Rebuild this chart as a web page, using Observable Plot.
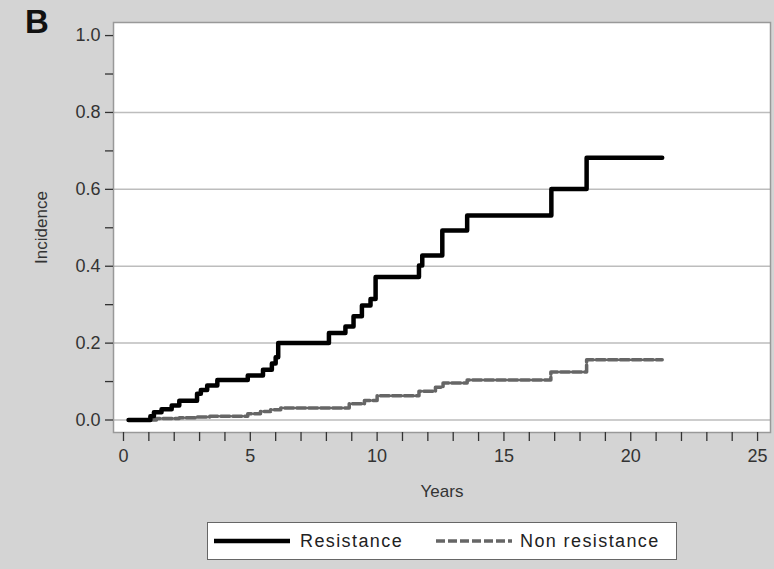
<!DOCTYPE html>
<html><head><meta charset="utf-8">
<script src="https://cdn.jsdelivr.net/npm/d3@7"></script>
<script src="https://cdn.jsdelivr.net/npm/@observablehq/plot@0.6"></script>
<style>
body{margin:0;background:#d4d4d4;font-family:"Liberation Sans",Arial,sans-serif;}
#wrap{position:relative;width:774px;height:569px;overflow:hidden;background:#d4d4d4;}
#panel{position:absolute;left:25px;top:5px;font-size:33px;font-weight:bold;color:#111;line-height:1;}
#chart{position:absolute;left:0;top:0;}
#legend{position:absolute;left:207px;top:522px;width:470px;height:38px;background:#fff;border:1px solid #666;box-sizing:border-box;}
.li{position:absolute;top:0;height:36px;line-height:36px;font-size:18px;letter-spacing:1.4px;color:#222;}
.sw{position:absolute;top:11px;}
</style></head>
<body>
<div id="wrap">
  <div id="chart"></div>
  <div id="panel">B</div>
  <div id="legend"></div>
</div>
<script>
// Data (years, cumulative incidence; step functions)
const resistanceYears = [0.2, 1.06, 1.2, 1.5, 1.9, 2.2, 2.9, 3.05, 3.3, 3.7, 4.9, 5.5, 5.85, 6.0, 6.1, 8.1, 8.75, 9.07, 9.4, 9.74, 9.94, 11.65, 11.78, 12.57, 13.55, 16.87, 18.26, 21.24];
const resistanceValues = [0, 0.01, 0.02, 0.028, 0.038, 0.05, 0.068, 0.078, 0.09, 0.104, 0.116, 0.131, 0.147, 0.163, 0.2, 0.226, 0.243, 0.27, 0.298, 0.315, 0.372, 0.402, 0.428, 0.493, 0.532, 0.601, 0.682, 0.682];
const nonResistanceYears = [0.2, 1.3, 2.2, 2.9, 3.4, 4.9, 5.4, 5.8, 6.2, 8.9, 9.5, 10.0, 11.65, 12.3, 12.6, 13.55, 16.85, 18.26, 21.24];
const nonResistanceValues = [0, 0.004, 0.006, 0.008, 0.01, 0.016, 0.022, 0.027, 0.031, 0.042, 0.051, 0.063, 0.075, 0.085, 0.096, 0.104, 0.125, 0.157, 0.157];
const seriesNames = ["Resistance", "Non resistance"];
const xTicks = [0,1,2,3,4,5,6,7,8,9,10,11,12,13,14,15,16,17,18,19,20,21,22,23,24,25];
const xLabels = [0, 5, 10, 15, 20, 25];
const yTicks = [0, 0.1, 0.2, 0.3, 0.4, 0.5, 0.6, 0.7, 0.8, 0.9, 1.0];
const yLabels = [0, 0.2, 0.4, 0.6, 0.8, 1.0];
const yGrid = [0, 0.2, 0.4, 0.6, 0.8];
const xTitle = "Years";
const yTitle = "Incidence";

const rows = [
  ...resistanceYears.map((t, i) => ({t, v: resistanceValues[i], s: seriesNames[0]})),
  ...nonResistanceYears.map((t, i) => ({t, v: nonResistanceValues[i], s: seriesNames[1]}))
];
const styles = {
  [seriesNames[0]]: {stroke: "#000", strokeWidth: 4.5, dash: null},
  [seriesNames[1]]: {stroke: "#666", strokeWidth: 3.5, dash: "9,3"}
};

const chart = Plot.plot({
  width: 774,
  height: 515,
  marginLeft: 113,
  marginRight: 4,
  marginTop: 22,
  marginBottom: 83,
  style: {background: "transparent", fontFamily: '"Liberation Sans", Arial, sans-serif', fontSize: "18px", color: "#333"},
  x: {domain: [-0.394, 25.51]},
  y: {domain: [-0.0325, 1.034]},
  marks: [
    Plot.frame({fill: "#fff", stroke: null}),
    Plot.gridY(yGrid, {stroke: "#bdbdbd", strokeOpacity: 1, strokeWidth: 1.5}),
    Plot.frame({stroke: "#999", strokeWidth: 1.5}),
    Plot.axisX({ticks: xTicks, tickSize: 9, tickPadding: 8, tickFormat: d => xLabels.includes(d) ? String(d) : "", label: null, fontSize: 18, strokeWidth: 1.3}),
    Plot.axisY({ticks: yTicks, tickSize: 8, tickPadding: 5, tickFormat: d => yLabels.includes(d) ? d.toFixed(1) : "", label: null, fontSize: 18, strokeWidth: 1.3}),
    Plot.line(rows.filter(d => d.s === seriesNames[1]), {x: "t", y: "v", curve: "step-after", stroke: styles[seriesNames[1]].stroke, strokeWidth: styles[seriesNames[1]].strokeWidth, strokeDasharray: styles[seriesNames[1]].dash}),
    Plot.line(rows.filter(d => d.s === seriesNames[0]), {x: "t", y: "v", curve: "step-after", stroke: styles[seriesNames[0]].stroke, strokeWidth: styles[seriesNames[0]].strokeWidth}),
    Plot.text([xTitle], {frameAnchor: "bottom", dy: 64, text: d => d, fontSize: 17, fill: "#333", textAnchor: "middle"}),
    Plot.text([yTitle], {frameAnchor: "left", dx: -72, rotate: -90, text: d => d, fontSize: 17, fill: "#333", textAnchor: "middle"})
  ]
});
document.getElementById("chart").appendChild(chart);

// Legend
const legend = document.getElementById("legend");
const items = [
  {name: seriesNames[0], swLeft: 6, textLeft: 92},
  {name: seriesNames[1], swLeft: 228, textLeft: 312}
];
items.forEach(it => {
  const st = styles[it.name];
  const sw = document.createElementNS("http://www.w3.org/2000/svg", "svg");
  sw.setAttribute("width", 76); sw.setAttribute("height", 14);
  sw.setAttribute("class", "sw");
  sw.style.left = it.swLeft + "px";
  const ln = document.createElementNS("http://www.w3.org/2000/svg", "line");
  ln.setAttribute("x1", 0); ln.setAttribute("x2", 76); ln.setAttribute("y1", 7); ln.setAttribute("y2", 7);
  ln.setAttribute("stroke", st.stroke); ln.setAttribute("stroke-width", st.strokeWidth);
  if (st.dash) ln.setAttribute("stroke-dasharray", st.dash);
  sw.appendChild(ln);
  legend.appendChild(sw);
  const tx = document.createElement("div");
  tx.className = "li"; tx.style.left = it.textLeft + "px"; tx.textContent = it.name;
  legend.appendChild(tx);
});
</script>
</body></html>
